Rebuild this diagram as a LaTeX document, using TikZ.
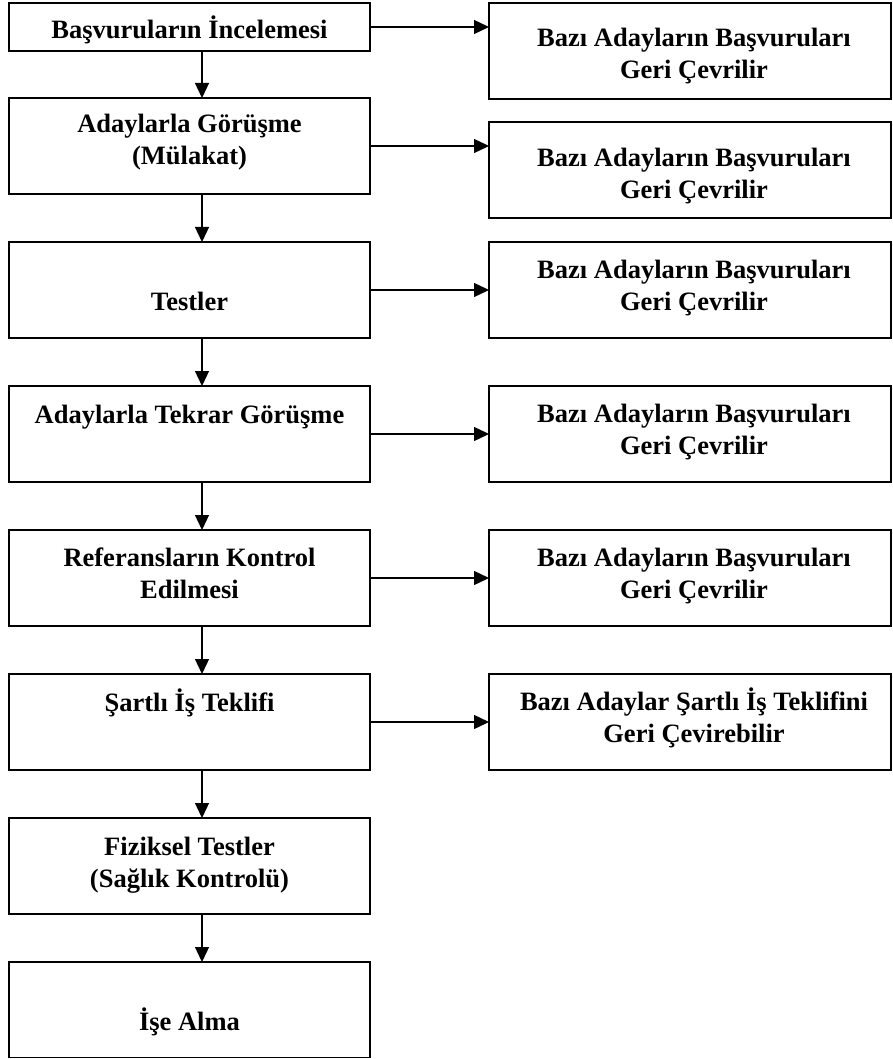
\documentclass[tikz,border=0pt]{standalone}
\usepackage{fontspec}
\setmainfont{Liberation Serif}
\usetikzlibrary{arrows.meta}
\begin{document}
\begin{tikzpicture}[x=1pt,y=-1pt,
  box/.style={draw, line width=1.6pt, rectangle, inner sep=0pt, outer sep=0pt, anchor=north west},
  lbox/.style={box, minimum width=361pt, minimum height=96pt},
  rbox/.style={box, minimum width=402pt, minimum height=96pt},
  lbl/.style={anchor=base, inner sep=0pt, font=\fontsize{26.5}{31.5}\selectfont\bfseries},
  arr/.style={line width=1.3pt, -{Triangle[length=15pt,width=14pt]}}]
\useasboundingbox (0,0) rectangle (893,1059);
\clip (0,0) rectangle (893,1059);
% left column
\node[lbox, minimum height=48pt] (L1) at (9,3) {};
\node[lbox] (L2) at (9,98) {};
\node[lbox] (L3) at (9,242) {};
\node[lbox] (L4) at (9,386) {};
\node[lbox] (L5) at (9,530) {};
\node[lbox] (L6) at (9,674) {};
\node[lbox] (L7) at (9,818) {};
\node[lbox, minimum height=95.5pt] (L8) at (9,962) {};
% right column
\node[rbox] (R1) at (489,3) {};
\node[rbox] (R2) at (489,122) {};
\node[rbox] (R3) at (489,242) {};
\node[rbox] (R4) at (489,386) {};
\node[rbox] (R5) at (489,530) {};
\node[rbox] (R6) at (489,674) {};
% left texts
\node[lbl] (tl1) at (189.5,39) {Başvuruların İncelemesi};
\node[lbl] (tl2a) at (189.5,133) {Adaylarla Görüşme};
\node[lbl] (tl2b) at (189.5,165) {(Mülakat)};
\node[lbl] (tl3) at (189.5,310) {Testler};
\node[lbl] (tl4) at (189.5,423) {Adaylarla Tekrar Görüşme};
\node[lbl] (tl5a) at (189.5,566) {Referansların Kontrol};
\node[lbl] (tl5b) at (189.5,598) {Edilmesi};
\node[lbl] (tl6) at (189.5,711) {Şartlı İş Teklifi};
\node[lbl] (tl7a) at (189.5,855) {Fiziksel Testler};
\node[lbl] (tl7b) at (189.5,887) {(Sağlık Kontrolü)};
\node[lbl] (tl8) at (189.5,1030) {İşe Alma};
% right texts
\node[lbl] (tr1a) at (694,47) {Bazı Adayların Başvuruları};
\node[lbl] (tr1b) at (694,79) {Geri Çevrilir};
\node[lbl] (tr2a) at (694,167) {Bazı Adayların Başvuruları};
\node[lbl] (tr2b) at (694,199) {Geri Çevrilir};
\node[lbl] (tr3a) at (694,278) {Bazı Adayların Başvuruları};
\node[lbl] (tr3b) at (694,310) {Geri Çevrilir};
\node[lbl] (tr4a) at (694,422) {Bazı Adayların Başvuruları};
\node[lbl] (tr4b) at (694,454) {Geri Çevrilir};
\node[lbl] (tr5a) at (694,566) {Bazı Adayların Başvuruları};
\node[lbl] (tr5b) at (694,598) {Geri Çevrilir};
\node[lbl] (tr6a) at (694,710) {Bazı Adaylar Şartlı İş Teklifini};
\node[lbl] (tr6b) at (694,742) {Geri Çevirebilir};
% vertical arrows
\foreach \a/\b in {L1/L2,L2/L3,L3/L4,L4/L5,L5/L6,L6/L7,L7/L8}
  \draw[arr] ([xshift=12.5pt]\a.south) -- ([xshift=12.5pt]\b.north);
% horizontal arrows
\foreach \i in {1,...,6}
  \draw[arr] (L\i.east) -- (L\i.east -| R\i.west);
\end{tikzpicture}
\end{document}
